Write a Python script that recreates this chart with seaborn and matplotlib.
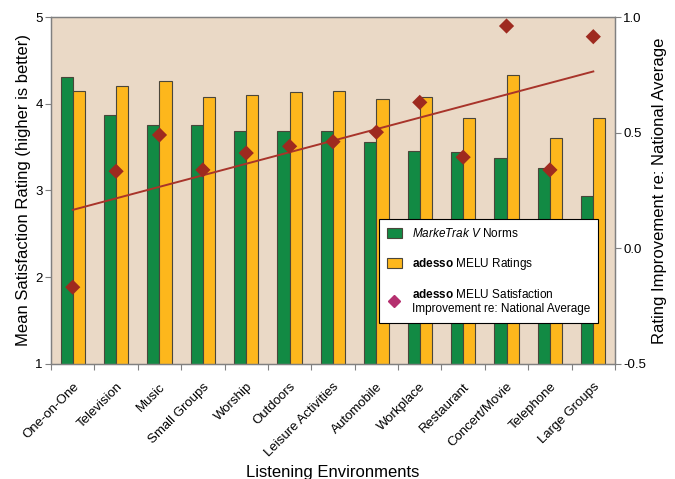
import numpy as np
import pandas as pd
import matplotlib
matplotlib.use("Agg")
import matplotlib.pyplot as plt
import matplotlib.transforms as mtransforms
from matplotlib.patches import Patch
from matplotlib.lines import Line2D
from matplotlib.ticker import FixedLocator, FormatStrFormatter
import seaborn as sns

plt.rcParams["font.family"] = ["Liberation Sans", "DejaVu Sans"]
plt.rcParams["axes.unicode_minus"] = False
plt.rcParams["mathtext.fontset"] = "custom"
plt.rcParams["mathtext.rm"] = "Liberation Sans"
plt.rcParams["mathtext.it"] = "Liberation Sans:italic"
plt.rcParams["mathtext.bf"] = "Liberation Sans:bold"

# Listening environments, ordered by the MarkeTrak V norm
environments = ["One-on-One", "Television", "Music", "Small Groups", "Worship",
                "Outdoors", "Leisure Activities", "Automobile", "Workplace",
                "Restaurant", "Concert/Movie", "Telephone", "Large Groups"]

# Mean satisfaction ratings (left axis)
marketrak_norms = [4.31, 3.87, 3.76, 3.75, 3.69, 3.69, 3.69, 3.56, 3.45, 3.44, 3.37, 3.26, 2.94]
melu_ratings = [4.15, 4.21, 4.26, 4.08, 4.10, 4.13, 4.15, 4.06, 4.08, 3.83, 4.33, 3.60, 3.84]

# Satisfaction improvement re: national average (right axis)
improvement = [-0.168, 0.333, 0.490, 0.339, 0.412, 0.441, 0.461, 0.502, 0.631, 0.394, 0.961, 0.339, 0.915]

series_names = ["MarkeTrak V Norms", "adesso MELU Ratings"]

GREEN = "#128A44"
YELLOW = "#FDB71C"
DIAMOND = "#9E2A1F"
TREND = "#A8342A"
LEGEND_DIAMOND = "#B5306F"
BG = "#EAD9C6"
SPINE = "#808080"
EDGE = "#4a463a"

df = pd.DataFrame({
    "environment": environments * 2,
    "rating": marketrak_norms + melu_ratings,
    "series": [series_names[0]] * len(environments) + [series_names[1]] * len(environments),
})

fig = plt.figure(figsize=(6.75, 4.79), dpi=100)
ax = fig.add_axes([0.0756, 0.2401, 0.8355, 0.7244])
ax.set_facecolor(BG)

sns.barplot(data=df, x="environment", y="rating", hue="series", order=environments,
            hue_order=series_names, palette={series_names[0]: GREEN, series_names[1]: YELLOW},
            width=0.56, saturation=1, errorbar=None, edgecolor=EDGE, linewidth=0.8,
            legend=False, ax=ax)

ax.set_ylim(1, 5)
ax.set_xlim(-0.5, len(environments) - 0.5)
ax.set_yticks([1, 2, 3, 4, 5])
ax.set_ylabel("Mean Satisfaction Rating (higher is better)", fontsize=12, labelpad=3)
ax.set_xlabel("Listening Environments", fontsize=12, labelpad=4)
ax.set_xticks(range(len(environments)))
ax.set_xticklabels(environments, rotation=45, ha="right", rotation_mode="anchor", fontsize=9.5)
shift = mtransforms.ScaledTranslation(4 / 72, 0, fig.dpi_scale_trans)
for lbl in ax.get_xticklabels():
    lbl.set_transform(lbl.get_transform() + shift)
ax.xaxis.set_minor_locator(FixedLocator(np.arange(-0.5, len(environments), 1.0)))
ax.tick_params(axis="x", which="major", length=0, pad=12)
ax.tick_params(axis="x", which="minor", length=4, color=SPINE, width=0.8)
ax.tick_params(axis="y", length=4, color=SPINE, width=0.8, labelsize=9.5, pad=2)
for side in ax.spines.values():
    side.set_color(SPINE)
    side.set_linewidth(0.9)

# Improvement diamonds and their linear trend on the secondary axis
ax2 = ax.twinx()
positions = np.arange(len(environments))
sns.regplot(x=positions, y=np.array(improvement), ci=None, scatter=False, truncate=True,
            line_kws={"color": TREND, "linewidth": 1.4}, ax=ax2)
sns.scatterplot(x=positions, y=improvement, marker="D", s=60, color=DIAMOND,
                edgecolor="none", legend=False, ax=ax2, zorder=5)
ax2.set_ylim(-0.5, 1.0)
ax2.set_yticks([-0.5, 0.0, 0.5, 1.0])
ax2.yaxis.set_major_formatter(FormatStrFormatter("%.1f"))
ax2.set_ylabel("Rating Improvement re: National Average", fontsize=12, labelpad=4)
ax2.set_xlabel("")
ax2.tick_params(axis="y", length=4, color=SPINE, width=0.8, labelsize=9.5, pad=2)
for side in ax2.spines.values():
    side.set_color(SPINE)
    side.set_linewidth(0.9)

handles = [
    Patch(facecolor=GREEN, edgecolor=EDGE, linewidth=0.8),
    Patch(facecolor=YELLOW, edgecolor=EDGE, linewidth=0.8),
    Line2D([], [], marker="D", linestyle="none", markersize=6, color=LEGEND_DIAMOND),
]
labels = [
    r"$\it{MarkeTrak\ V}$ Norms",
    r"$\bf{adesso}$ MELU Ratings",
    r"$\bf{adesso}$ MELU Satisfaction" + "\nImprovement re: National Average",
]
leg = ax2.legend(handles, labels, loc="lower right", bbox_to_anchor=(0.970, 0.118),
                 fontsize=8.5, frameon=True, fancybox=False, framealpha=1,
                 edgecolor="black", labelspacing=1.35, handlelength=1.3, handleheight=0.9,
                 handletextpad=0.8, borderpad=0.7, borderaxespad=0)
leg.get_frame().set_linewidth(0.8)

fig.savefig("out.png", dpi=100)
